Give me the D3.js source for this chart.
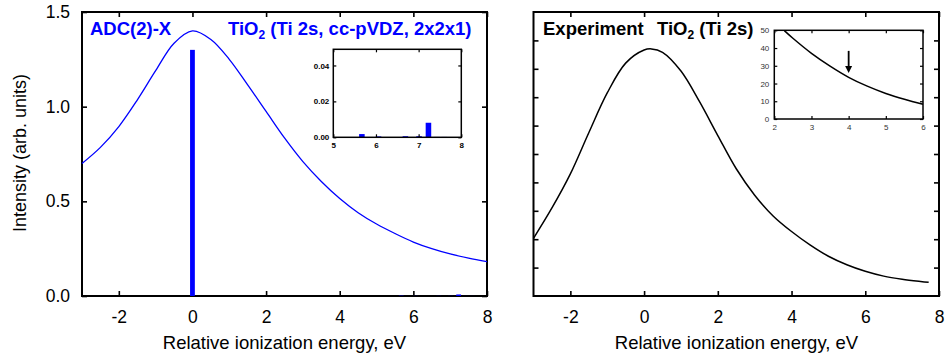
<!DOCTYPE html>
<html>
<head>
<meta charset="utf-8">
<script src="https://cdn.jsdelivr.net/npm/d3@7"></script>
<style>
  body { margin: 0; background: #fff; }
  text { font-family: "Liberation Sans", Arial, Helvetica, sans-serif; }
</style>
</head>
<body>
<div id="chart"></div>
<script>
// TiO2 Ti 2s: ADC(2)-X theory (left) vs experiment (right)

// ---- data ----
// calculated envelope (blue)
const calcEnergy = [-3, -2.5, -2, -1.5, -1, -0.5, 0, 0.5, 1, 1.5, 2, 2.5, 3, 3.5, 4, 4.5, 5, 5.5, 6, 6.5, 7, 7.5, 8];
const calcIntensity = [0.70, 0.785, 0.895, 1.035, 1.19, 1.335, 1.40, 1.355, 1.25, 1.115, 0.975, 0.835, 0.71, 0.605, 0.515, 0.44, 0.38, 0.33, 0.285, 0.25, 0.222, 0.20, 0.182];

// stick spectrum (main line + weak satellites)
const stickEnergy = [0, 5.67, 6.06, 6.69, 7.01, 7.23, 7.43, 7.60];
const stickIntensity = [1.30, 0.0018, 0.0005, 0.0006, 0.0006, 0.0081, 0.0002, 0.0002];

// experimental spectrum (black)
const expEnergy = [-3, -2.5, -2, -1.5, -1, -0.5, 0, 0.2, 0.5, 1, 1.5, 2, 2.5, 3, 3.5, 4, 4.5, 5, 5.5, 6, 6.5, 7, 7.5, 7.72];
const expIntensity = [2.03, 3.1, 4.3, 5.75, 7.15, 8.2, 8.66, 8.7, 8.58, 7.92, 6.85, 5.65, 4.48, 3.55, 2.82, 2.27, 1.8, 1.4, 1.1, 0.87, 0.7, 0.59, 0.51, 0.48];

// experimental inset (zoom of tail)
const insetEnergy = [2.27, 2.5, 3, 3.5, 4, 4.5, 5, 5.5, 6];
const insetIntensity = [49.8, 45.5, 37, 29.8, 23.5, 18.5, 14.4, 11.1, 8.3];

// arrow in inset (energy, from, to)
const arrowMark = [4, 38.4, 26];

// ticks
const xTicks = [-2, 0, 2, 4, 6, 8];
const yTicksL = [0, 0.5, 1.0, 1.5];
const yTicksR = [1, 2, 3, 4, 5, 6, 7, 8, 9];
const insetLxTicks = [5, 6, 7, 8];
const insetLyTicks = [0, 0.02, 0.04];
const insetRxTicks = [2, 3, 4, 5, 6];
const insetRyTicks = [0, 10, 20, 30, 40, 50];

const width = 947, height = 354;
const blue = "#0000ff";
const barWidth = 0.13;

const svg = d3.select("#chart")
    .append("svg")
    .attr("width", width)
    .attr("height", height);

// ---- scales ----
const xL = d3.scaleLinear().domain([-3, 8]).range([82, 487]);
const yL = d3.scaleLinear().domain([0, 1.5]).range([296, 12]);
const xR = d3.scaleLinear().domain([-3, 8]).range([533.5, 939]);
const yR = d3.scaleLinear().domain([0, 10]).range([296, 12]);
const xIL = d3.scaleLinear().domain([5, 8]).range([333.3, 461.3]);
const yIL = d3.scaleLinear().domain([0, 0.049]).range([137.3, 49.3]);
const xIR = d3.scaleLinear().domain([2, 6]).range([774.3, 923]);
const yIR = d3.scaleLinear().domain([0, 50]).range([119, 30.3]);

// draws frame + inward ticks on all four sides
function frame(x, y, opt) {
    const g = svg.append("g");
    const [x0, x1] = x.range(), [y0, y1] = y.range();
    const ts = opt.tick;

    g.append("g").attr("transform", `translate(0,${y0})`)
        .call(d3.axisBottom(x).tickValues(opt.xt).tickSizeInner(-ts).tickSizeOuter(0)
            .tickPadding(opt.xpad).tickFormat(opt.xf || (d => d)));
    g.append("g").attr("transform", `translate(0,${y1})`)
        .call(d3.axisTop(x).tickValues(opt.xt).tickSizeInner(-ts).tickSizeOuter(0).tickFormat(""));
    g.append("g").attr("transform", `translate(${x0},0)`)
        .call(d3.axisLeft(y).tickValues(opt.yt).tickSizeInner(-ts).tickSizeOuter(0)
            .tickPadding(opt.ypad).tickFormat(opt.yf === null ? "" : opt.yf));
    g.append("g").attr("transform", `translate(${x1},0)`)
        .call(d3.axisRight(y).tickValues(opt.yt).tickSizeInner(-ts).tickSizeOuter(0).tickFormat(""));

    g.selectAll(".domain").remove();
    g.selectAll(".tick line").attr("stroke", "#000").attr("stroke-width", opt.sw * 0.8);
    g.selectAll(".tick text")
        .attr("fill", opt.color)
        .attr("font-size", opt.fs)
        .attr("font-weight", opt.fw)
        .style("font-family", "'Liberation Sans', Arial, sans-serif");

    g.append("rect")
        .attr("x", x0).attr("y", y1)
        .attr("width", x1 - x0).attr("height", y0 - y1)
        .attr("fill", "none").attr("stroke", "#000").attr("stroke-width", opt.sw);
    return g;
}

const line = (x, y) => d3.line().x(d => x(d[0])).y(d => y(d[1])).curve(d3.curveCatmullRom);

// ---- left panel ----
frame(xL, yL, { xt: xTicks, yt: yTicksL, tick: 5, sw: 2, fs: 17.5, fw: "normal", color: "#000",
    xpad: 15, ypad: 12, yf: d3.format(".1f") });

svg.append("path")
    .datum(calcEnergy.map((e, i) => [e, calcIntensity[i]]))
    .attr("fill", "none")
    .attr("stroke", blue)
    .attr("stroke-width", 1.3)
    .attr("d", line(xL, yL));

svg.append("g").selectAll("rect")
    .data(stickEnergy.map((e, i) => ({ e, v: stickIntensity[i] })))
    .join("rect")
    .attr("x", d => xL(d.e - barWidth / 2))
    .attr("width", d => xL(barWidth) - xL(0))
    .attr("y", d => yL(d.v))
    .attr("height", d => yL(0) - yL(d.v))
    .attr("fill", blue);

// left inset
svg.append("rect").attr("x", 333.3).attr("y", 49.3).attr("width", 128).attr("height", 88).attr("fill", "#fff");
svg.append("g").selectAll("rect")
    .data(stickEnergy.map((e, i) => ({ e, v: stickIntensity[i] })).filter(d => d.e >= 5))
    .join("rect")
    .attr("x", d => xIL(d.e - barWidth / 2))
    .attr("width", d => xIL(barWidth) - xIL(0))
    .attr("y", d => yIL(d.v))
    .attr("height", d => yIL(0) - yIL(d.v))
    .attr("fill", blue);
frame(xIL, yIL, { xt: insetLxTicks, yt: insetLyTicks, tick: 3, sw: 1.5, fs: 8, fw: "bold", color: "#000",
    xpad: 5, ypad: 4, yf: d3.format(".2f") });

// titles
svg.append("text").attr("x", 90).attr("y", 35)
    .attr("fill", blue).attr("font-size", 18.5).attr("font-weight", "bold")
    .text("ADC(2)-X");
const t1 = svg.append("text").attr("x", 228).attr("y", 35)
    .attr("fill", blue).attr("font-size", 18.5).attr("font-weight", "bold");
t1.append("tspan").text("TiO");
t1.append("tspan").attr("font-size", 12).attr("dy", 4).text("2");
t1.append("tspan").attr("dy", -4).text(" (Ti 2s, cc-pVDZ, 2x2x1)");

svg.append("text")
    .attr("transform", "translate(26,153) rotate(-90)")
    .attr("text-anchor", "middle").attr("font-size", 18)
    .text("Intensity (arb. units)");
svg.append("text").attr("x", 284.5).attr("y", 349)
    .attr("text-anchor", "middle").attr("font-size", 18.5)
    .text("Relative ionization energy, eV");

// ---- right panel ----
frame(xR, yR, { xt: xTicks, yt: yTicksR, tick: 5, sw: 2, fs: 17.5, fw: "normal", color: "#000",
    xpad: 15, ypad: 12, yf: null });

svg.append("path")
    .datum(expEnergy.map((e, i) => [e, expIntensity[i]]))
    .attr("fill", "none")
    .attr("stroke", "#000")
    .attr("stroke-width", 1.5)
    .attr("d", line(xR, yR));

svg.append("text").attr("x", 736.5).attr("y", 349)
    .attr("text-anchor", "middle").attr("font-size", 18.5)
    .text("Relative ionization energy, eV");

const t2 = svg.append("text").attr("x", 543).attr("y", 35)
    .attr("fill", "#000").attr("font-size", 18.5).attr("font-weight", "bold");
t2.append("tspan").text("Experiment");
t2.append("tspan").attr("x", 657).text("TiO");
t2.append("tspan").attr("font-size", 12).attr("dy", 4).text("2");
t2.append("tspan").attr("dy", -4).text(" (Ti 2s)");

// right inset
svg.append("rect").attr("x", 774.3).attr("y", 30.3).attr("width", 148.7).attr("height", 88.7).attr("fill", "#fff");
svg.append("path")
    .datum(insetEnergy.map((e, i) => [e, insetIntensity[i]]))
    .attr("fill", "none")
    .attr("stroke", "#000")
    .attr("stroke-width", 1.5)
    .attr("d", line(xIR, yIR));
frame(xIR, yIR, { xt: insetRxTicks, yt: insetRyTicks, tick: 3, sw: 1.5, fs: 8, fw: "normal", color: "#333",
    xpad: 5, ypad: 5, yf: d => d });

// arrow
const ax = xIR(arrowMark[0]);
svg.append("line")
    .attr("x1", ax).attr("x2", ax)
    .attr("y1", yIR(arrowMark[1])).attr("y2", yIR(arrowMark[2]) - 5)
    .attr("stroke", "#000").attr("stroke-width", 1.8);
svg.append("path")
    .attr("d", `M${ax - 3.5},${yIR(arrowMark[2]) - 7} L${ax + 3.5},${yIR(arrowMark[2]) - 7} L${ax},${yIR(arrowMark[2])} Z`)
    .attr("fill", "#000");
</script>
</body>
</html>
